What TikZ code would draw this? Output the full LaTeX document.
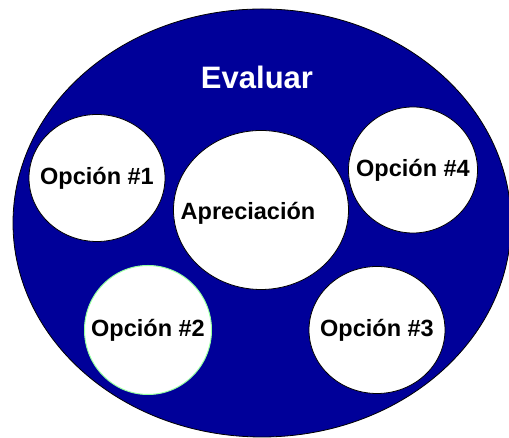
\documentclass[tikz,border=0pt]{standalone}
\usepackage{fontspec}
\setmainfont{Liberation Sans}
\usetikzlibrary{shapes.geometric}
\definecolor{azulfondo}{RGB}{0,0,153}
\definecolor{verdeborde}{RGB}{150,255,160}

\begin{document}
\begin{tikzpicture}[x=1pt,y=1pt,
	burbuja/.style={ellipse,draw=black,line width=0.8pt,fill=white,inner sep=0pt},
	rotulo/.style={font=\fontsize{23.5}{26}\selectfont\bfseries,text=black}]
						\useasboundingbox (0,0) rectangle (509,438);
						% fondo azul
						\node[ellipse,draw=black,line width=0.8pt,fill=azulfondo,minimum width=498pt,minimum height=428pt] (evaluar) at (262,215) {};
						\node[font=\fontsize{31}{34}\selectfont\bfseries,text=white] (titulo) at (257,361) {Evaluar};
						% opciones
						\node[burbuja,minimum width=136pt,minimum height=127pt,label={[rotulo]center:Opción \#1}] (op1) at (97,260) {};
						\node[burbuja,minimum width=175pt,minimum height=159pt,label={[rotulo,xshift=-13pt,yshift=-3pt]center:Apreciación}] (apr) at (261,228) {};
						\node[burbuja,minimum width=129pt,minimum height=126pt,label={[rotulo]center:Opción \#4}] (op4) at (413,268) {};
						\node[burbuja,draw=verdeborde,line width=1pt,minimum width=127pt,minimum height=129pt,label={[rotulo]center:Opción \#2}] (op2) at (148,108) {};
						\node[burbuja,minimum width=136pt,minimum height=127pt,label={[rotulo]center:Opción \#3}] (op3) at (377,108) {};
\end{tikzpicture}
\end{document}
